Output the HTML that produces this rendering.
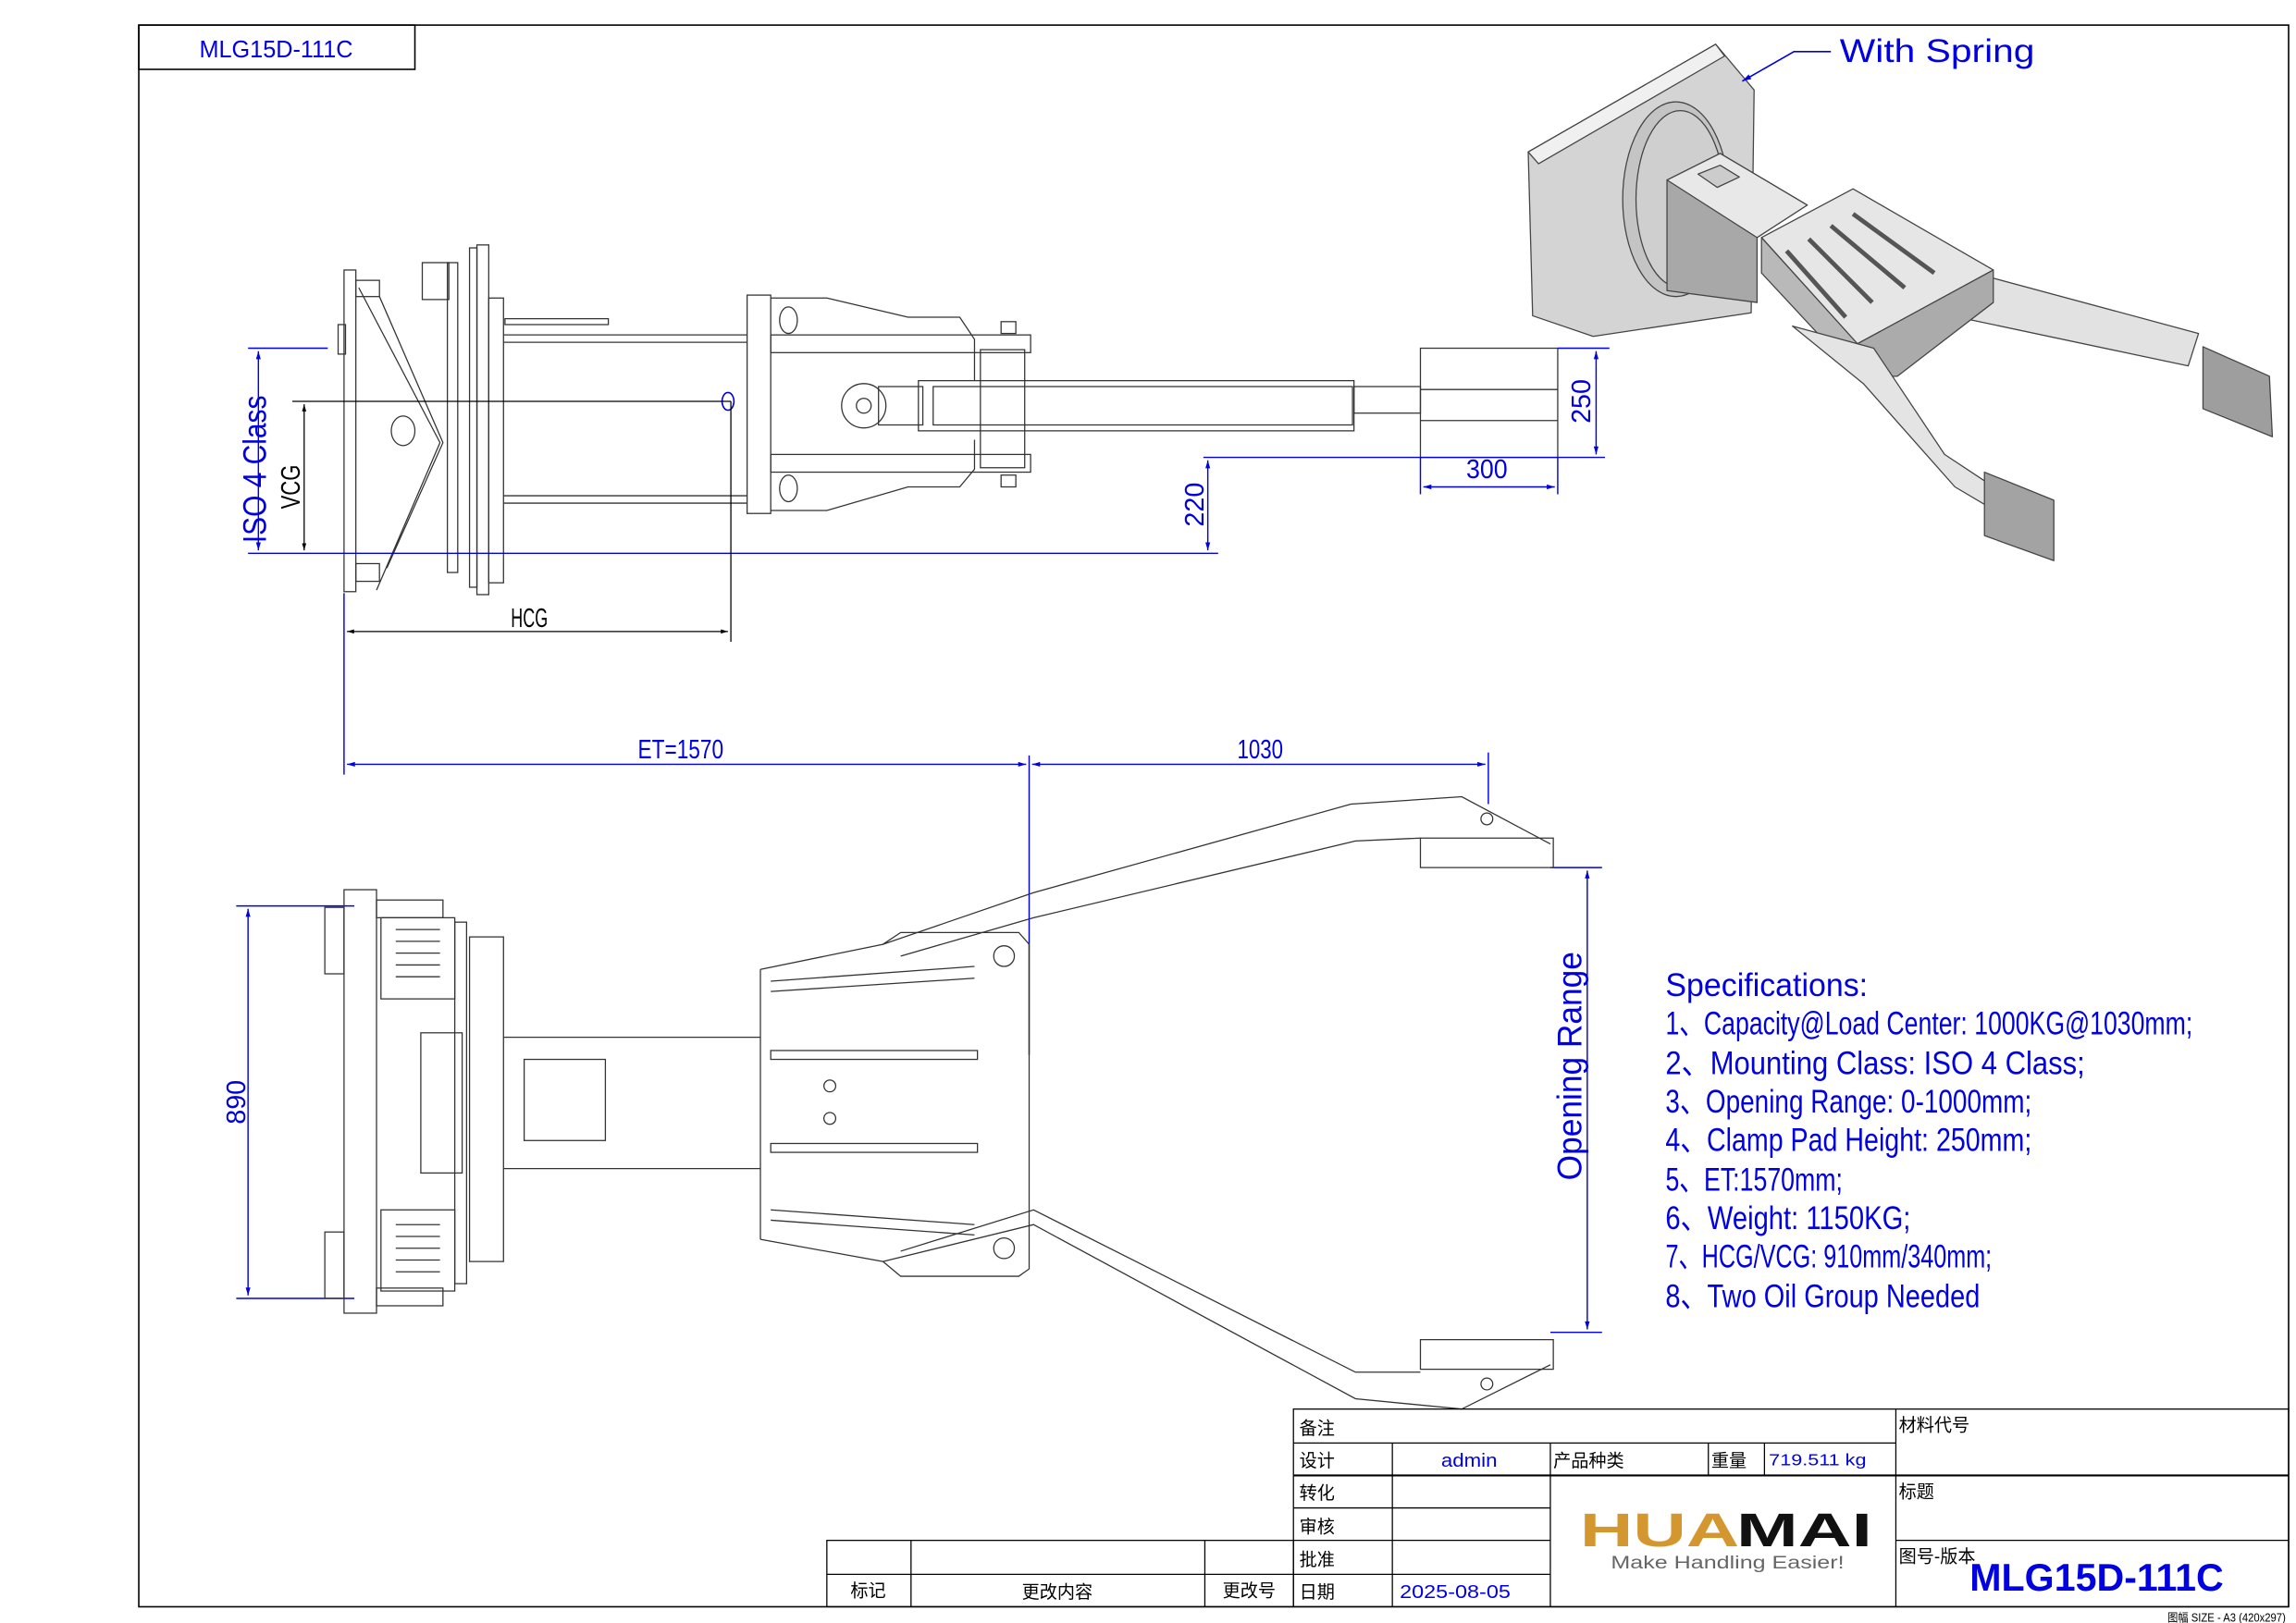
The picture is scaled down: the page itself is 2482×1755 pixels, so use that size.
<!DOCTYPE html>
<html><head><meta charset="utf-8"><style>
html,body{margin:0;padding:0;background:#fff}
svg{display:block}
text{font-family:"Liberation Sans","Noto Sans CJK SC",sans-serif}
</style></head><body>
<svg width="2482" height="1755" viewBox="0 0 1555 1100" preserveAspectRatio="none" xmlns="http://www.w3.org/2000/svg">
<defs>
<marker id="a" viewBox="0 0 10 10" refX="10" refY="5" markerWidth="8" markerHeight="6" orient="auto-start-reverse"><path d="M0,2 L10,5 L0,8z" fill="#0000e0"/></marker>
<marker id="k" viewBox="0 0 10 10" refX="10" refY="5" markerWidth="8" markerHeight="6" orient="auto-start-reverse"><path d="M0,2 L10,5 L0,8z" fill="#000"/></marker>
</defs>
<rect width="1555" height="1100" fill="#fff"/>
<rect x="94" y="17" width="1456" height="1072" fill="none" stroke="#000" stroke-width="1"/>
<rect x="94" y="17" width="187" height="30" fill="none" stroke="#000" stroke-width="1"/>
<text x="135" y="39" font-size="16" fill="#0000e0" textLength="104" lengthAdjust="spacingAndGlyphs">MLG15D-111C</text>

<!-- top side view -->
<g fill="none" stroke="#333" stroke-width="0.8">
<rect x="233" y="183" width="8" height="218"/>
<rect x="241" y="190" width="16" height="11"/><rect x="241" y="382" width="16" height="12"/>
<rect x="229" y="220" width="5" height="20"/>
<path d="M243 195 L298 300 L255 400 M257 201 L300 300 L262 385"/>
<ellipse cx="273" cy="292" rx="8" ry="10"/>
<rect x="303" y="178" width="7" height="210"/><rect x="323" y="166" width="8" height="237"/><rect x="318" y="168" width="5" height="230"/>
<rect x="331" y="202" width="10" height="193"/>
<rect x="286" y="178" width="18" height="25"/>
<line x1="341" y1="227" x2="506" y2="227"/><line x1="341" y1="232" x2="506" y2="232"/>
<line x1="341" y1="336" x2="506" y2="336"/><line x1="341" y1="341" x2="506" y2="341"/>
<rect x="342" y="216" width="70" height="4"/>
<rect x="506" y="200" width="16" height="148"/>
<path d="M522 202 L560 202 L615 215 L650 215 L660 230 L660 258 M522 346 L560 346 L615 330 L650 330 L660 318 L660 298"/>
<ellipse cx="534" cy="217" rx="6" ry="9"/><ellipse cx="534" cy="331" rx="6" ry="9"/>
<rect x="522" y="227" width="176" height="12"/><rect x="522" y="308" width="176" height="12"/>
<rect x="664" y="237" width="30" height="80"/>
<rect x="678" y="218" width="10" height="8"/><rect x="678" y="322" width="10" height="8"/>
<circle cx="585" cy="275" r="15"/><circle cx="585" cy="275" r="5"/>
<rect x="595" y="262" width="30" height="26"/>
<rect x="622" y="258" width="295" height="34"/><rect x="632" y="262" width="284" height="26"/>
<rect x="917" y="262" width="45" height="18"/>
<rect x="962" y="236" width="93" height="74"/><line x1="962" y1="264" x2="1055" y2="264"/><line x1="962" y1="285" x2="1055" y2="285"/>
</g>
<path d="M493 266 a4 6 0 1 0 0.1 0z" fill="#fff" stroke="#00c" stroke-width="1"/>
<g stroke="#0000e0" stroke-width="0.9" fill="none">
<line x1="168" y1="236" x2="222" y2="236"/>
<line x1="168" y1="375" x2="825" y2="375"/>
<line x1="175" y1="238" x2="175" y2="373" marker-start="url(#a)" marker-end="url(#a)"/>
<line x1="818" y1="312" x2="818" y2="373" marker-start="url(#a)" marker-end="url(#a)"/>
<line x1="815" y1="310" x2="1087" y2="310"/>
<line x1="1055" y1="236" x2="1090" y2="236"/>
<line x1="1081" y1="238" x2="1081" y2="308" marker-start="url(#a)" marker-end="url(#a)"/>
<line x1="962" y1="310" x2="962" y2="335"/><line x1="1055" y1="310" x2="1055" y2="335"/>
<line x1="964" y1="330" x2="1053" y2="330" marker-start="url(#a)" marker-end="url(#a)"/>
<line x1="233" y1="402" x2="233" y2="525"/>
<line x1="235" y1="518" x2="695" y2="518" marker-start="url(#a)" marker-end="url(#a)"/>
<line x1="699" y1="518" x2="1006" y2="518" marker-start="url(#a)" marker-end="url(#a)"/>
<line x1="697" y1="512" x2="697" y2="715"/><line x1="1008" y1="510" x2="1008" y2="545"/>
<line x1="160" y1="614" x2="240" y2="614"/><line x1="160" y1="880" x2="240" y2="880"/>
<line x1="168" y1="616" x2="168" y2="878" marker-start="url(#a)" marker-end="url(#a)"/>
<line x1="1050" y1="588" x2="1085" y2="588"/><line x1="1050" y1="903" x2="1085" y2="903"/>
<line x1="1075" y1="590" x2="1075" y2="901" marker-start="url(#a)" marker-end="url(#a)"/>
</g>
<g stroke="#000" stroke-width="0.8" fill="none">
<line x1="198" y1="272" x2="495" y2="272"/>
<line x1="206" y1="274" x2="206" y2="373" marker-start="url(#k)" marker-end="url(#k)"/>
<line x1="495" y1="272" x2="495" y2="435"/>
<line x1="235" y1="428" x2="493" y2="428" marker-start="url(#k)" marker-end="url(#k)"/>
</g>
<g fill="#0000e0" font-size="18">
<text transform="translate(180,368) rotate(-90)" font-size="22" textLength="100" lengthAdjust="spacingAndGlyphs">ISO 4 Class</text>
<text transform="translate(815,357) rotate(-90)" textLength="30" lengthAdjust="spacingAndGlyphs">220</text>
<text transform="translate(1077,287) rotate(-90)" textLength="30" lengthAdjust="spacingAndGlyphs">250</text>
<text x="993" y="324" textLength="28" lengthAdjust="spacingAndGlyphs">300</text>
<text x="432" y="514" textLength="58" lengthAdjust="spacingAndGlyphs">ET=1570</text>
<text x="838" y="514" textLength="31" lengthAdjust="spacingAndGlyphs">1030</text>
<text transform="translate(166,762) rotate(-90)" textLength="30" lengthAdjust="spacingAndGlyphs">890</text>
<text transform="translate(1071,800) rotate(-90)" font-size="23" textLength="155" lengthAdjust="spacingAndGlyphs">Opening Range</text>
</g>
<g fill="#000" font-size="18">
<text transform="translate(203,345) rotate(-90)" textLength="30" lengthAdjust="spacingAndGlyphs">VCG</text>
<text x="346" y="425" textLength="25" lengthAdjust="spacingAndGlyphs">HCG</text>
</g>

<!-- bottom plan view -->
<g fill="none" stroke="#333" stroke-width="0.8">
<rect x="233" y="603" width="22" height="287"/>
<rect x="220" y="615" width="13" height="45"/><rect x="220" y="835" width="13" height="45"/>
<rect x="255" y="610" width="45" height="12"/><rect x="255" y="873" width="45" height="12"/>
<rect x="258" y="622" width="50" height="55"/><rect x="258" y="820" width="50" height="55"/>
<path d="M268 630 l30 0 m-30 8 l30 0 m-30 8 l30 0 m-30 8 l30 0 m-30 8 l30 0 M268 830 l30 0 m-30 8 l30 0 m-30 8 l30 0 m-30 8 l30 0 m-30 8 l30 0"/>
<rect x="285" y="700" width="28" height="95"/>
<rect x="308" y="625" width="8" height="245"/><rect x="318" y="635" width="23" height="220"/>
<line x1="341" y1="703" x2="515" y2="703"/><line x1="341" y1="792" x2="515" y2="792"/>
<rect x="355" y="718" width="55" height="55"/>
<path d="M515 657 L515 840 M515 657 L598 640 L610 632 L690 632 L697 640 L697 860 L690 865 L610 865 L598 855 L515 840"/>
<line x1="522" y1="665" x2="660" y2="655"/><line x1="522" y1="672" x2="660" y2="663"/>
<line x1="522" y1="827" x2="660" y2="837"/><line x1="522" y1="820" x2="660" y2="830"/>
<rect x="522" y="712" width="140" height="6"/><rect x="522" y="775" width="140" height="6"/>
<circle cx="680" cy="648" r="7"/><circle cx="680" cy="846" r="7"/>
<circle cx="562" cy="736" r="4"/><circle cx="562" cy="758" r="4"/>
<path d="M598 640 L700 605 L915 545 L990 540 L1050 572 M610 648 L700 622 L918 570 L962 568"/>
<path d="M598 855 L700 830 L918 948 L990 955 L1050 925 M610 848 L700 820 L918 930 L962 930"/>
<path d="M962 568 L1052 568 L1052 588 L962 588 Z M962 908 L1052 908 L1052 928 L962 928 Z"/>
<circle cx="1007" cy="555" r="4"/><circle cx="1007" cy="938" r="4"/>
</g>

<!-- 3D view -->
<g stroke="#444" stroke-width="0.8" stroke-linejoin="round">
<path d="M1035 103 L1162 30 L1188 61 L1186 212 L1079 228 L1038 214 Z" fill="#d4d4d4"/>
<path d="M1035 103 L1162 30 L1168 38 L1042 111 Z" fill="#f0f0f0"/>
<ellipse cx="1135" cy="135" rx="36" ry="66" fill="#c4c4c4"/>
<ellipse cx="1138" cy="135" rx="30" ry="60" fill="#cfcfcf"/>
<path d="M1129 122 L1165 104 L1224 139 L1190 161 L1190 205 L1129 197 Z" fill="#a8a8a8"/>
<path d="M1129 122 L1165 104 L1224 139 L1190 161 Z" fill="#e8e8e8"/>
<path d="M1150 118 L1165 112 L1178 120 L1163 127 Z" fill="#ccc"/>
<path d="M1331 216 L1348 188 L1489 226 L1482 248 Z" fill="#e2e2e2"/>
<path d="M1492 235 L1537 255 L1539 296 L1492 277 Z" fill="#9e9e9e"/>
<path d="M1193 161 L1255 128 L1350 183 L1258 233 Z" fill="#e6e6e6"/>
<path d="M1193 161 L1258 233 L1258 255 L1193 185 Z" fill="#b9b9b9"/>
<path d="M1258 233 L1350 183 L1350 205 L1285 255 L1258 255 Z" fill="#ababab"/>
<path d="M1210 170 L1250 215 M1225 162 L1268 205 M1240 153 L1290 195 M1255 145 L1310 185" stroke="#555" stroke-width="3"/>
<path d="M1214 221 L1262 260 L1324 330 L1368 356 L1382 351 L1317 308 L1269 236 Z" fill="#e4e4e4"/>
<path d="M1344 320 L1391 339 L1391 380 L1344 363 Z" fill="#a3a3a3"/>
</g>
<g stroke="#0000e0" stroke-width="1" fill="none">
<path d="M1240 35 L1215 35 L1180 55" marker-end="url(#a)"/>
</g>
<text x="1246" y="42" font-family="Liberation Mono,monospace" font-size="22" fill="#0000e0" textLength="132" lengthAdjust="spacingAndGlyphs">With Spring</text>

<g fill="#0000e0" font-size="22">
<text x="1128" y="675" textLength="137" lengthAdjust="spacingAndGlyphs">Specifications:</text>
<text x="1128" y="701" textLength="357" lengthAdjust="spacingAndGlyphs">1、Capacity@Load Center: 1000KG@1030mm;</text>
<text x="1128" y="728" textLength="284" lengthAdjust="spacingAndGlyphs">2、Mounting Class: ISO 4 Class;</text>
<text x="1128" y="754" textLength="248" lengthAdjust="spacingAndGlyphs">3、Opening Range: 0-1000mm;</text>
<text x="1128" y="780" textLength="248" lengthAdjust="spacingAndGlyphs">4、Clamp Pad Height: 250mm;</text>
<text x="1128" y="807" textLength="120" lengthAdjust="spacingAndGlyphs">5、ET:1570mm;</text>
<text x="1128" y="833" textLength="166" lengthAdjust="spacingAndGlyphs">6、Weight: 1150KG;</text>
<text x="1128" y="859" textLength="221" lengthAdjust="spacingAndGlyphs">7、HCG/VCG: 910mm/340mm;</text>
<text x="1128" y="886" textLength="213" lengthAdjust="spacingAndGlyphs">8、Two Oil Group Needed</text>
</g>

<g stroke="#000" stroke-width="0.8" fill="none">
<rect x="876" y="955" width="674" height="134"/>
<line x1="876" y1="978" x2="1284" y2="978"/>
<line x1="876" y1="1000" x2="1550" y2="1000" stroke-width="1.3"/>
<line x1="876" y1="1022" x2="1050" y2="1022"/>
<line x1="876" y1="1044" x2="1050" y2="1044"/>
<line x1="1284" y1="1044" x2="1550" y2="1044"/>
<line x1="876" y1="1067" x2="1050" y2="1067"/>
<line x1="1284" y1="955" x2="1284" y2="1089"/>
<line x1="943" y1="978" x2="943" y2="1089"/>
<line x1="1050" y1="978" x2="1050" y2="1089"/>
<line x1="1157" y1="978" x2="1157" y2="1000"/>
<line x1="1195" y1="978" x2="1195" y2="1000"/>
<rect x="560" y="1044" width="316" height="45"/>
<line x1="560" y1="1067" x2="876" y2="1067"/>
<line x1="617" y1="1044" x2="617" y2="1089"/>
<line x1="816" y1="1044" x2="816" y2="1089"/>
</g>
<g font-size="12" fill="#000">
<text x="880" y="972">备注</text>
<text x="880" y="994">设计</text>
<text x="1052" y="994">产品种类</text>
<text x="1159" y="994">重量</text>
<text x="880" y="1016">转化</text>
<text x="880" y="1039">审核</text>
<text x="880" y="1061">批准</text>
<text x="880" y="1083">日期</text>
<text x="1286" y="970">材料代号</text>
<text x="1286" y="1015">标题</text>
<text x="1286" y="1059">图号-版本</text>
<text x="588" y="1082" text-anchor="middle">标记</text>
<text x="716" y="1083" text-anchor="middle">更改内容</text>
<text x="846" y="1082" text-anchor="middle">更改号</text>
</g>
<g fill="#0000e0" font-size="13">
<text x="976" y="994" font-family="Liberation Mono,monospace" textLength="38" lengthAdjust="spacingAndGlyphs">admin</text>
<text x="1198" y="993" font-family="Liberation Mono,monospace" font-size="11" textLength="66" lengthAdjust="spacingAndGlyphs">719.511 kg</text>
<text x="948" y="1083" textLength="75" lengthAdjust="spacingAndGlyphs">2025-08-05</text>
</g>
<text x="1334" y="1078" font-weight="bold" font-size="26" fill="#0000e0" textLength="172" lengthAdjust="spacingAndGlyphs">MLG15D-111C</text>
<text x="1070" y="1048" font-weight="bold" font-size="32" fill="#d4962e" textLength="108" lengthAdjust="spacingAndGlyphs">HUA</text>
<text x="1176" y="1048" font-weight="bold" font-size="32" fill="#111" textLength="92" lengthAdjust="spacingAndGlyphs">MAI</text>
<text x="1091" y="1063" font-size="12" fill="#666" textLength="158" lengthAdjust="spacingAndGlyphs">Make Handling Easier!</text>
<text x="1548" y="1099" text-anchor="end" font-size="8" fill="#000" textLength="80" lengthAdjust="spacingAndGlyphs">图幅 SIZE - A3 (420x297)</text>
</svg>
</body></html>
